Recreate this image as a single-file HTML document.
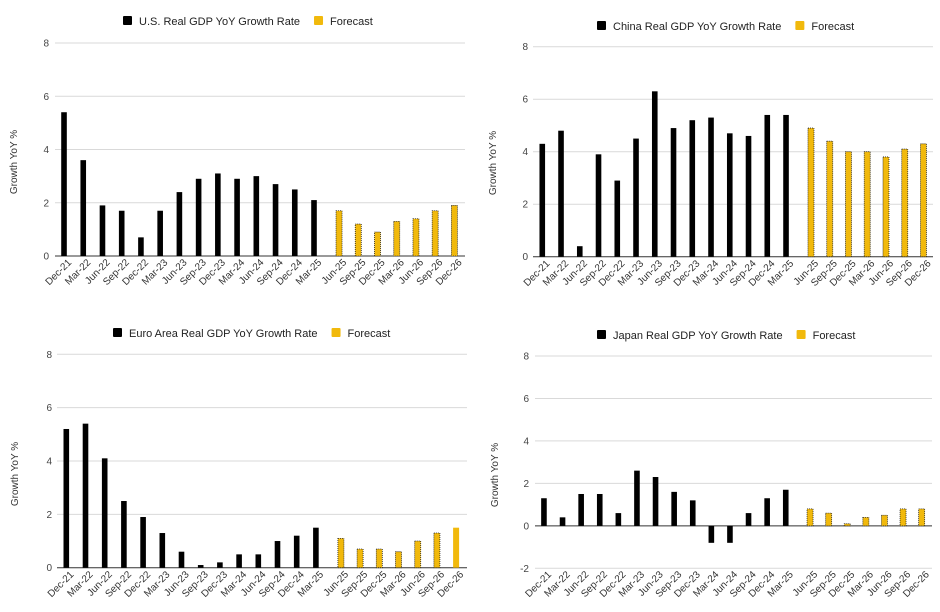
<!DOCTYPE html>
<html><head><meta charset="utf-8"><style>
html,body{margin:0;padding:0;background:#fff;}
svg{display:block;font-family:"Liberation Sans",Arial,sans-serif;}
</style></head><body>
<svg id="root" width="940" height="612" viewBox="0 0 940 612"></svg>
<script>
const categories = ["Dec-21","Mar-22","Jun-22","Sep-22","Dec-22","Mar-23","Jun-23","Sep-23","Dec-23","Mar-24","Jun-24","Sep-24","Dec-24","Mar-25","Jun-25","Sep-25","Dec-25","Mar-26","Jun-26","Sep-26","Dec-26"];
const usActual = [5.4,3.6,1.9,1.7,0.7,1.7,2.4,2.9,3.1,2.9,3.0,2.7,2.5,2.1];
const usForecast = [1.7,1.2,0.9,1.3,1.4,1.7,1.9];
const chinaActual = [4.3,4.8,0.4,3.9,2.9,4.5,6.3,4.9,5.2,5.3,4.7,4.6,5.4,5.4];
const chinaForecast = [4.9,4.4,4.0,4.0,3.8,4.1,4.3];
const euroActual = [5.2,5.4,4.1,2.5,1.9,1.3,0.6,0.1,0.2,0.5,0.5,1.0,1.2,1.5];
const euroForecast = [1.1,0.7,0.7,0.6,1.0,1.3,1.5];
const japanActual = [1.3,0.4,1.5,1.5,0.6,2.6,2.3,1.6,1.2,-0.8,-0.8,0.6,1.3,1.7];
const japanForecast = [0.8,0.6,0.1,0.4,0.5,0.8,0.8];
const ticksStd = [0,2,4,6,8];
const ticksJapan = [-2,0,2,4,6,8];

const NS = "http://www.w3.org/2000/svg";
const root = document.getElementById('root');
function mk(tag, attrs, parent, text){
  const e = document.createElementNS(NS, tag);
  for (const k in attrs) e.setAttribute(k, attrs[k]);
  if (text !== undefined) e.textContent = text;
  (parent||root).appendChild(e);
  return e;
}

function drawChart(cfg){
  const g = mk('g', {});
  
  
  const ymin = cfg.ticks[0], ymax = cfg.ticks[cfg.ticks.length-1];
  const yScale = v => cfg.yBot + (v - ymin) * (cfg.yTop - cfg.yBot) / (ymax - ymin);
  const xCenter = i => cfg.x0 + (i + 0.5) * cfg.bw;
  cfg.ticks.forEach(t => {
    const y = yScale(t);
    const ln = mk('line', {x1: cfg.gl, x2: cfg.gr, y1: y, y2: y, stroke: t===0 ? '#333' : '#d9d9d9', 'stroke-width': 1}, g);
    
    
    const tx = mk('text', {x: cfg.labX, y: y + 3.5, 'text-anchor': 'end', 'font-size': 10, fill: '#444'}, g, String(t));
    
    
  });
  const yt = mk('text', {x: 0, y: 0, transform: `translate(${cfg.titleX},${cfg.titleY}) rotate(-90)`, 'text-anchor': 'middle', 'font-size': 10, fill: '#333'}, g, 'Growth YoY %');
  
  
  const y0 = yScale(0);
  cfg.actual.forEach((v, i) => {
    const x = xCenter(i) - cfg.d;
    const y = yScale(v);
    const r = mk('rect', {x: x - 2.8, y: Math.min(y, y0), width: 5.6, height: Math.max(Math.abs(y0 - y), 1), fill: '#000'}, g);
    
    
  });
  cfg.forecast.forEach((v, j) => {
    const i = cfg.actual.length + j;
    const x = xCenter(i) + cfg.d;
    const y = yScale(v);
    const dotted = !(cfg.lastSolid && j === cfg.forecast.length - 1);
    const attrs = {x: x - 3, y: Math.min(y, y0), width: 6, height: Math.max(Math.abs(y0 - y), 1), fill: '#f1b90c'};
    if (dotted){ attrs.stroke = '#222'; attrs['stroke-width'] = 0.8; attrs['stroke-dasharray'] = '1,1'; }
    const r = mk('rect', attrs, g);
    
    
  });
  categories.forEach((c, i) => {
    const x = xCenter(i) + (i < cfg.actual.length ? -cfg.d : cfg.d) + 8;
    const y = cfg.xlabY;
    const t = mk('text', {x: 0, y: 0, transform: `translate(${x},${y}) rotate(-45)`, 'text-anchor': 'end', 'font-size': 10, fill: '#333'}, g, c);
    
    
  });
  const lg = mk('g', {}, g);
  
  
  const s1 = mk('rect', {x: cfg.legX, y: cfg.legY - 5, width: 9, height: 9, rx: 1, fill: '#000'}, lg);
  
  
  const t1 = mk('text', {x: cfg.legX + 16, y: cfg.legY + 4, 'font-size': 11, fill: '#222'}, lg, cfg.title);
  
  
  const w = t1.getComputedTextLength();
  const fx = cfg.legX + 16 + w + 14;
  const s2 = mk('rect', {x: fx, y: cfg.legY - 5, width: 9, height: 9, rx: 1, fill: '#f1b90c'}, lg);
  
  
  const t2 = mk('text', {x: fx + 16, y: cfg.legY + 4, 'font-size': 11, fill: '#222'}, lg, 'Forecast');
  
  
}

drawChart({name:'us-gdp-chart', title:'U.S. Real GDP YoY Growth Rate', actual: usActual, forecast: usForecast, ticks: ticksStd,
  yTop: 43, yBot: 256, x0: 57.3, bw: 19.23, d: 2.9, gl: 55, gr: 465, labX: 49, titleX: 17, titleY: 162, xlabY: 263, legX: 123, legY: 21});
drawChart({name:'china-gdp-chart', title:'China Real GDP YoY Growth Rate', actual: chinaActual, forecast: chinaForecast, ticks: ticksStd,
  yTop: 46.7, yBot: 256.7, x0: 536, bw: 18.75, d: 3.1, gl: 533, gr: 933, labX: 528, titleX: 496, titleY: 163, xlabY: 264, legX: 597, legY: 26});
drawChart({name:'euro-gdp-chart', title:'Euro Area Real GDP YoY Growth Rate', actual: euroActual, forecast: euroForecast, ticks: ticksStd, lastSolid: true,
  yTop: 354.3, yBot: 567.7, x0: 59.6, bw: 19.2, d: 2.9, gl: 57, gr: 467, labX: 52, titleX: 18, titleY: 474, xlabY: 575, legX: 113, legY: 333});
drawChart({name:'japan-gdp-chart', title:'Japan Real GDP YoY Growth Rate', actual: japanActual, forecast: japanForecast, ticks: ticksJapan,
  yTop: 356, yBot: 568.3, x0: 537.5, bw: 18.6, d: 2.85, gl: 535, gr: 932, labX: 529, titleX: 498, titleY: 475, xlabY: 575, legX: 597, legY: 335});
</script>
</body></html>
